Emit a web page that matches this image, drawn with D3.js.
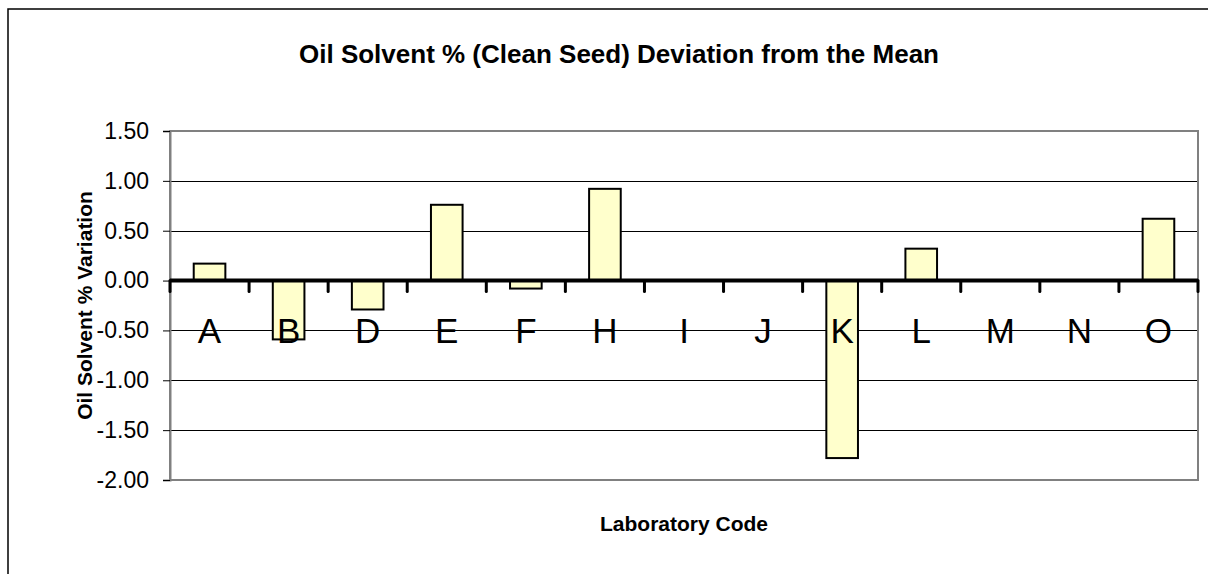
<!DOCTYPE html>
<html>
<head>
<meta charset="utf-8">
<script src="https://cdn.jsdelivr.net/npm/d3@7"></script>
<style>
  body { margin: 0; background: #fff; }
  svg { display: block; font-family: Arial, "Liberation Sans", sans-serif; }
</style>
</head>
<body>
<div class="chart-wrapper"></div>
<script>
// lab codes and their deviation from the mean (null = no bar)
var labs = ["A", "B", "D", "E", "F", "H", "I", "J", "K", "L", "M", "N", "O"];
var deviation = [0.17, -0.59, -0.29, 0.76, -0.08, 0.92, null, null, -1.78, 0.32, null, null, 0.62];
var yTicks = [1.5, 1.0, 0.5, 0.0, -0.5, -1.0, -1.5, -2.0];

var title = "Oil Solvent % (Clean Seed) Deviation from the Mean";

var W = 1208, H = 574;
var margin = { top: 131, right: 10, bottom: 94, left: 170 },
    width = 1198 - margin.left,
    height = 480 - margin.top;

var svg = d3.select(".chart-wrapper").append("svg")
  .attr("width", W)
  .attr("height", H);

// outer chart frame
svg.append("rect")
  .attr("x", 8).attr("y", 9)
  .attr("width", W + 20).attr("height", H + 20)
  .attr("fill", "none")
  .attr("stroke", "#000")
  .attr("stroke-width", 1.5);

var data = labs.map(function(l, i){ return { lab: l, value: deviation[i] }; });

var x = d3.scaleBand()
  .domain(labs)
  .range([0, width])
  .paddingInner(0)
  .paddingOuter(0);

var y = d3.scaleLinear()
  .domain([-2, 1.5])
  .range([height, 0]);

var g = svg.append("g")
  .attr("transform", "translate(" + margin.left + "," + margin.top + ")");

// gridlines
g.append("g")
  .attr("class", "grid")
  .selectAll("line")
  .data(yTicks.filter(function(d){ return d !== 0 && d !== 1.5 && d !== -2; }))
  .enter().append("line")
  .attr("x1", 0).attr("x2", width)
  .attr("y1", function(d){ return Math.round(y(d)) + 0.5; })
  .attr("y2", function(d){ return Math.round(y(d)) + 0.5; })
  .attr("stroke", "#000")
  .attr("stroke-width", 1);

// plot border (gray)
g.append("rect")
  .attr("x", 0).attr("y", 0)
  .attr("width", width).attr("height", height)
  .attr("fill", "none")
  .attr("stroke", "#808080")
  .attr("stroke-width", 2);

// y axis
var fmt = d3.format(".2f");
var yAxis = g.append("g")
  .attr("class", "axis axis--y")
  .call(d3.axisLeft(y).tickValues(yTicks).tickSize(7).tickPadding(14)
    .tickFormat(function(d){ return fmt(d).replace("\u2212", "-"); }));
yAxis.select(".domain").attr("stroke", "#808080").attr("stroke-width", 2);
yAxis.selectAll(".tick line").attr("stroke", "#000");
yAxis.selectAll("text")
  .style("font-size", "23px")
  .style("font-family", "Arial, 'Liberation Sans', sans-serif")
  .attr("fill", "#000");

// bars
g.selectAll(".bar")
  .data(data.filter(function(d){ return d.value !== null; }))
  .enter().append("rect")
  .attr("class", "bar")
  .attr("x", function(d){ return x(d.lab) + x.bandwidth() * 0.3; })
  .attr("width", x.bandwidth() * 0.4)
  .attr("y", function(d){ return d.value > 0 ? y(d.value) : y(0); })
  .attr("height", function(d){ return Math.abs(y(d.value) - y(0)); })
  .attr("fill", "#FFFFCC")
  .attr("stroke", "#000")
  .attr("stroke-width", 2);

// zero axis with category ticks
var zero = g.append("g")
  .attr("transform", "translate(0," + y(0) + ")");
zero.append("line")
  .attr("x1", 0).attr("x2", width)
  .attr("stroke", "#000")
  .attr("stroke-width", 4);
var bounds = labs.map(function(l){ return x(l); }).concat([width]);
zero.selectAll(".cat-tick")
  .data(bounds)
  .enter().append("line")
  .attr("class", "cat-tick")
  .attr("x1", function(d){ return d; })
  .attr("x2", function(d){ return d; })
  .attr("y1", 0).attr("y2", 11)
  .attr("stroke", "#000")
  .attr("stroke-width", 3)
  .attr("stroke-linecap", "round");

// category labels
g.selectAll(".cat-label")
  .data(labs)
  .enter().append("text")
  .attr("class", "cat-label")
  .attr("x", function(d){ return x(d) + x.bandwidth() / 2; })
  .attr("y", 343 - margin.top)
  .attr("text-anchor", "middle")
  .style("font-size", "35px")
  .text(function(d){ return d; });

// titles
svg.append("text")
  .attr("x", 619)
  .attr("y", 63)
  .attr("text-anchor", "middle")
  .style("font-size", "26px")
  .style("font-weight", "bold")
  .text(title);

svg.append("text")
  .attr("transform", "translate(92," + (margin.top + height / 2) + ") rotate(-90)")
  .attr("text-anchor", "middle")
  .style("font-size", "21px")
  .style("font-weight", "bold")
  .text("Oil Solvent % Variation");

svg.append("text")
  .attr("x", margin.left + width / 2)
  .attr("y", 531)
  .attr("text-anchor", "middle")
  .style("font-size", "21px")
  .style("font-weight", "bold")
  .text("Laboratory Code");
</script>
</body>
</html>
